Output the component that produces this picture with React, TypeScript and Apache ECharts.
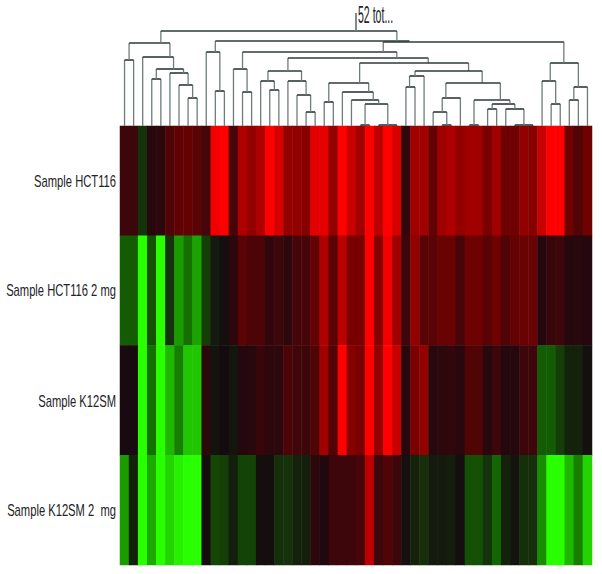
import React, { useEffect, useRef } from "react";
import * as echarts from "echarts";

const sampleLabels = ["Sample HCT116", "Sample HCT116 2 mg", "Sample K12SM", "Sample K12SM 2  mg"];
const geneIndex = Array.from({ length: 52 }, (_, i) => String(i));

const rowHCT116 = [
  0.2, 0.2, -0.2, 0.1, 0.12, 0.3, 0.38, 0.4, 0.35, 0.25, 0.95, 1, 0.25,
  0.7, 0.6, 0.7, 1, 0.85, 0.6, 0.6, 0.55, 0.9, 0.9, 0.6, 1, 0.8,
  0.65, 1, 0.75, 1, 0.85, 0.15, 0.65, 0.65, 0.4, 0.65, 0.7, 0.6, 0.65,
  0.65, 0.5, 0.65, 0.45, 0.45, 0.6, 0.55, 0.8, 1, 1, 0.45, 0.3, 0.45,
];
const rowHCT1162mg = [
  -0.4, -0.4, -1, -0.35, -1, -0.2, -0.65, -0.5, -0.68, -0.25, -0.08, -0.02, 0.12,
  0.35, 0.28, 0.28, 0.15, 0.2, 0.12, 0.25, 0.25, 0.4, 0.7, 0.35, 0.75, 0.5,
  0.5, 1, 0.55, 0.95, 0.65, 0.2, 0.6, 0.35, 0.35, 0.42, 0.42, 0.25, 0.45,
  0.45, 0.35, 0.45, 0.3, 0.4, 0.42, 0.42, 0.08, 0.18, 0.2, 0.08, 0.1, 0.08,
];
const rowK12SM = [
  0.02, 0.02, -1, -0.5, -1, -0.75, -0.55, -0.8, -0.8, 0.12, -0.05, 0, -0.06,
  0.08, 0.1, 0.18, 0.12, 0.12, 0.28, 0.22, 0.2, 0.3, 0.65, 0.3, 1, 0.55,
  0.5, 1, 0.6, 1, 0.8, 0.1, 0.5, 0.6, 0.1, 0.12, 0.15, 0.1, 0.3,
  0.3, 0.1, 0.2, 0.08, 0.08, 0.2, 0.2, -0.4, -0.4, -0.25, -0.12, -0.12, -0.03,
];
const rowK12SM2mg = [
  -0.65, -0.12, -1, -0.7, -1, -0.85, -0.95, -1, -1, -0.02, -0.3, -0.25, -0.1,
  -0.28, -0.28, -0.02, -0.02, -0.18, -0.2, -0.12, -0.1, 0.12, 0.06, 0.2, 0.2, 0.2,
  0.25, 0.75, 0.2, 0.3, 0.2, -0.03, -0.12, -0.18, -0.08, -0.08, -0.1, -0.02, -0.35,
  -0.35, -0.2, -0.45, -0.12, -0.05, -0.18, -0.18, -0.6, -1, -1, -0.75, -0.55, -0.85,
];
const rows = [rowHCT116, rowHCT1162mg, rowK12SM, rowK12SM2mg];

// Dendrogram links: left leaf position, right leaf position, join level, left child level, right child level
const links = [
  [0, 1, 60, 126, 126],
  [7, 8, 98, 126, 126],
  [6, 7.5, 85, 126, 98],
  [5, 7, 73, 126, 85],
  [3, 4, 79, 126, 126],
  [3.5, 6.5, 69, 79, 73],
  [2, 5.4, 57, 126, 69],
  [0.5, 5, 43, 60, 57],
  [10, 11, 91, 126, 126],
  [9, 10.5, 52, 126, 91],
  [13, 14, 92, 126, 126],
  [12, 13.5, 69, 126, 92],
  [16, 17, 90, 126, 126],
  [15, 16.5, 81, 126, 90],
  [20, 21, 112, 126, 126],
  [19, 20.5, 95, 126, 112],
  [18, 20, 81, 126, 95],
  [15.8, 19.5, 71, 81, 81],
  [22, 23, 102, 126, 126],
  [26, 27, 125, 126, 126],
  [28, 30, 125, 126, 126],
  [26.5, 29, 104, 125, 125],
  [25, 28, 100, 126, 104],
  [24, 27.4, 92, 126, 100],
  [22.5, 26.9, 83, 102, 92],
  [18, 33.46, 58, 71, 63],
  [25.9, 37.9, 63, 83, 71],
  [31, 32, 87, 126, 126],
  [31.4, 33, 76, 87, 126],
  [32, 39.4, 71, 76, 83],
  [35, 36, 125, 126, 126],
  [34, 35.5, 112, 126, 125],
  [35, 37, 98, 112, 126],
  [38, 39, 125, 126, 126],
  [40, 41, 109, 126, 126],
  [43, 45, 125, 126, 126],
  [42, 44, 109, 126, 125],
  [40.5, 43, 104, 109, 109],
  [38.5, 42.45, 100, 125, 104],
  [35.4, 41.4, 83, 98, 100],
  [47, 48, 104, 126, 126],
  [46, 47.5, 81, 126, 104],
  [49, 50, 100, 126, 126],
  [49.5, 51, 87, 100, 126],
  [46.9, 50, 63, 81, 87],
  [13, 30, 52, 69, 58],
  [28.5, 48.4, 42, 52, 63],
  [10, 31.4, 41, 52, 42],
  [4, 30, 31, 43, 41],
  [25.5, 25.5, 13, 31, 31],
];

const rootLabel = "52 tot...";
const labelCenters = [181, 290, 401, 510];

const FONT = '"Liberation Sans", Arial, sans-serif';

export default function App() {
  const ref = useRef<HTMLDivElement>(null);

  useEffect(() => {
    document.body.style.margin = "0";
    const chart = echarts.init(ref.current!, undefined, { renderer: "svg" });
    const cells: number[][] = [];
    rows.forEach((row, r) => row.forEach((v, c) => cells.push([c, r, v])));

    chart.setOption({
      animation: false,
      backgroundColor: "#ffffff",
      tooltip: { show: false },
      grid: [
        { left: 120, top: 126, width: 472, height: 439, outerBoundsMode: "none" },
        { left: 120, top: 0, width: 472, height: 126, outerBoundsMode: "none" },
      ],
      xAxis: [
        { type: "category", gridIndex: 0, data: geneIndex, show: false },
        { type: "value", gridIndex: 1, min: -0.5, max: 51.5, show: false },
      ],
      yAxis: [
        { type: "category", gridIndex: 0, data: sampleLabels, inverse: true, show: false },
        { type: "value", gridIndex: 1, min: 0, max: 126, inverse: true, show: false },
      ],
      visualMap: {
        show: false,
        type: "continuous",
        seriesIndex: 0,
        min: -1,
        max: 1,
        inRange: { color: ["#28ff00", "#147000", "#140a10", "#780000", "#ff0000"] },
      },
      series: [
        {
          type: "heatmap",
          xAxisIndex: 0,
          yAxisIndex: 0,
          data: cells,
          progressive: 0,
          itemStyle: { borderWidth: 0 },
          emphasis: { disabled: true },
          silent: true,
        },
        {
          type: "custom",
          xAxisIndex: 1,
          yAxisIndex: 1,
          data: links,
          silent: true,
          clip: false,
          encode: { x: [0, 1], y: [2, 3, 4] },
          renderItem: (_p: any, api: any) => {
            const l = api.coord([api.value(0), api.value(2)]);
            const r = api.coord([api.value(1), api.value(2)]);
            const lb = api.coord([api.value(0), api.value(3)]);
            const rb = api.coord([api.value(1), api.value(4)]);
            const v = { stroke: "#6f7c7c", lineWidth: 1.3 };
            const h = { stroke: "#2f3a3a", lineWidth: 1.6 };
            return {
              type: "group",
              children: [
                { type: "line", shape: { x1: l[0], y1: l[1], x2: lb[0], y2: lb[1] }, style: v },
                { type: "line", shape: { x1: r[0], y1: r[1], x2: rb[0], y2: rb[1] }, style: v },
                { type: "line", shape: { x1: l[0], y1: l[1], x2: r[0], y2: r[1] }, style: h },
              ],
            };
          },
        },
      ],
      graphic: [
        {
          type: "text",
          x: 358,
          y: 15,
          scaleX: 0.44,
          style: {
            text: rootLabel,
            fontFamily: FONT,
            fontSize: 24,
            fill: "#1d2326",
            textVerticalAlign: "middle",
            textAlign: "left",
          },
        },
        ...sampleLabels.map((text, i) => ({
          type: "text",
          x: 116,
          y: labelCenters[i],
          scaleX: 0.7,
          style: {
            text,
            fontFamily: FONT,
            fontSize: 16,
            fill: "#1d2326",
            textVerticalAlign: "middle",
            textAlign: "right",
          },
        })),
      ],
    });
    return () => chart.dispose();
  }, []);

  return <div ref={ref} style={{ width: 602, height: 574 }} />;
}
